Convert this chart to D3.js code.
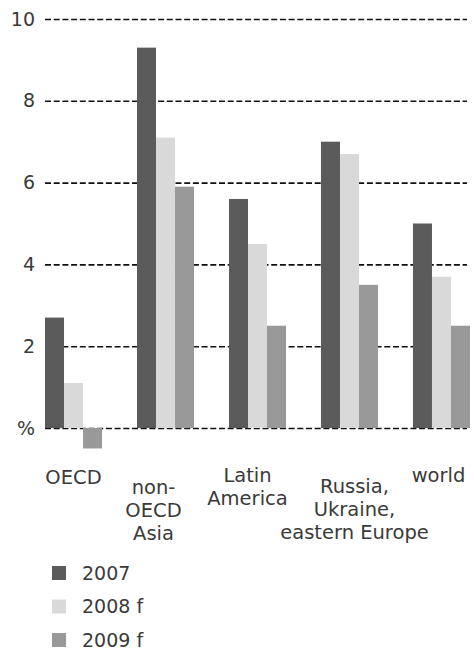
<!DOCTYPE html>
<html>
<head>
<meta charset="utf-8">
<script src="https://cdn.jsdelivr.net/npm/d3@7"></script>
<style>
  body { margin: 0; background: #fff; }
  text { font-family: "DejaVu Sans", sans-serif; fill: #3a3a3a; }
</style>
</head>
<body>
<div id="chart"></div>
<script>
// data (% growth)
const regions = ["OECD", "non-OECD Asia", "Latin America", "Russia, Ukraine, eastern Europe", "world"];
const regionLines = [["OECD"], ["non-", "OECD", "Asia"], ["Latin", "America"], ["Russia,", "Ukraine,", "eastern Europe"], ["world"]];
const seriesNames = ["2007", "2008 f", "2009 f"];
const values2007 = [2.7, 9.3, 5.6, 7.0, 5.0];
const values2008 = [1.1, 7.1, 4.5, 6.7, 3.7];
const values2009 = [-0.5, 5.9, 2.5, 3.5, 2.5];
const yTicks = [0, 2, 4, 6, 8, 10];

const WIDTH = 474;
const HEIGHT = 658;
const colors = ["#5b5b5b", "#d9d9d9", "#999999"];
// small nudges for the staggered category labels
const labelShiftX = [0, -12, -10, 5, -3];
const labelTopY = [484, 494, 482, 493, 482];

const series = [values2007, values2008, values2009];

const svg = d3.select("#chart")
    .append("svg")
    .attr("width", WIDTH)
    .attr("height", HEIGHT);

const x0 = d3.scaleBand()
    .domain(regions)
    .range([45, 470])
    .paddingInner(0.38)
    .paddingOuter(0);

const x1 = d3.scaleBand()
    .domain(seriesNames)
    .range([0, x0.bandwidth()]);

const y = d3.scaleLinear()
    .domain([0, 10])
    .range([428, 19]);

// gridlines + tick labels
const yAxis = svg.append("g")
    .attr("transform", "translate(45,0)")
    .call(d3.axisLeft(y)
        .tickValues(yTicks)
        .tickFormat(d => d === 0 ? "%" : d)
        .tickSizeInner(-422)
        .tickSizeOuter(0)
        .tickPadding(10));

yAxis.select(".domain").remove();
yAxis.selectAll(".tick line")
    .attr("stroke", "#111")
    .attr("stroke-width", 1.6)
    .attr("stroke-dasharray", "6,2.7");
yAxis.selectAll(".tick text")
    .attr("font-size", 19)
    .attr("fill", "#3a3a3a");

// bars
const groups = svg.append("g")
    .selectAll("g")
    .data(regions)
    .join("g")
    .attr("transform", d => `translate(${x0(d)},0)`);

groups.selectAll("rect")
    .data((d, i) => series.map((s, j) => ({ name: seriesNames[j], value: s[i], color: colors[j] })))
    .join("rect")
    .attr("x", d => x1(d.name))
    .attr("width", x1.bandwidth())
    .attr("y", d => y(Math.max(0, d.value)))
    .attr("height", d => Math.abs(y(d.value) - y(0)))
    .attr("fill", d => d.color);

// category labels, one text per line
const labelData = regions.flatMap((d, i) => regionLines[i].map((line, k) => ({
    line,
    x: x0(d) + x0.bandwidth() / 2 + labelShiftX[i],
    y: labelTopY[i] + k * 23
})));

svg.append("g")
    .selectAll("text")
    .data(labelData)
    .join("text")
    .attr("text-anchor", "middle")
    .attr("font-size", 19.5)
    .attr("x", d => d.x)
    .attr("y", d => d.y)
    .text(d => d.line);

// legend
const legend = svg.append("g")
    .selectAll("g")
    .data(seriesNames)
    .join("g")
    .attr("transform", (d, i) => `translate(52,${566 + i * 33.5})`);

legend.append("rect")
    .attr("width", 14)
    .attr("height", 14)
    .attr("fill", (d, i) => colors[i]);

legend.append("text")
    .attr("x", 30)
    .attr("y", 7)
    .attr("dy", "0.35em")
    .attr("font-size", 19)
    .text(d => d);
</script>
</body>
</html>
